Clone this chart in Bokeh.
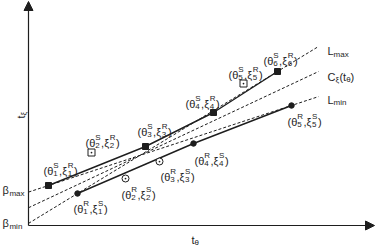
import math
from bokeh.plotting import figure
from bokeh.models import Range1d, Arrow, NormalHead, ColumnDataSource
from bokeh.embed import file_html
from bokeh.resources import INLINE
from bokeh.core.properties import value

# ---------------- data (t_theta, t_xi units; origin at the axes corner) -------------
theta_S = [20, 63, 117, 185, 215, 249]      # S points (theta^S_i)
xi_R = [40, 73, 79, 113, 142, 154]          # S points (xi^R_i)
S_on_bound = [True, False, True, True, False, True]
theta_R = [49, 97, 131, 165, 263]           # R points (theta^R_i)
xi_S = [32, 47, 64, 82, 120]                # R points (xi^S_i)
R_on_bound = [True, False, False, True, True]
t_end = 290                                  # where the bound lines stop
axis_x_max = 346
axis_y_max = 224

# bound lines
slope_max = (xi_R[5] - xi_S[0]) / (theta_S[5] - theta_R[0])   # L_max through R1, S6
beta_min = xi_S[0] - slope_max * theta_R[0]
slope_min = (xi_S[4] - xi_R[0]) / (theta_R[4] - theta_S[0])   # L_min through S1, R5
beta_max = xi_R[0] - slope_min * theta_S[0]
slope_c = (slope_max + slope_min) / 2
beta_c = (beta_max + beta_min) / 2

INK = "#1e1e1e"
FONT = "Liberation Sans"
MAIN = 11
SCR = 8

p = figure(width=376, height=247, output_backend="svg", toolbar_location=None,
           x_range=Range1d(-28, 348), y_range=Range1d(-22, 225),
           min_border=0, outline_line_color=None)
p.axis.visible = False
p.grid.visible = False
p.background_fill_color = "white"

# axes with arrows
p.add_layout(Arrow(end=NormalHead(size=9, fill_color=INK, line_color=INK),
                   x_start=0, y_start=0, x_end=0, y_end=axis_y_max,
                   line_color=INK, line_width=1.2))
p.add_layout(Arrow(end=NormalHead(size=9, fill_color=INK, line_color=INK),
                   x_start=0, y_start=0, x_end=axis_x_max, y_end=0,
                   line_color=INK, line_width=1.2))

# dashed lines
for b, s in [(beta_min, slope_max), (beta_c, slope_c), (beta_max, slope_min)]:
    p.line([0, t_end], [b, b + s * t_end], line_color=INK, line_width=1,
           line_dash="3 2")

# solid envelopes
us_x = [x for x, f in zip(theta_S, S_on_bound) if f]
us_y = [y for y, f in zip(xi_R, S_on_bound) if f]
lr_x = [x for x, f in zip(theta_R, R_on_bound) if f]
lr_y = [y for y, f in zip(xi_S, R_on_bound) if f]
p.line(us_x, us_y, line_color=INK, line_width=1.4)
p.line(lr_x, lr_y, line_color=INK, line_width=1.4)

# markers
p.scatter(us_x, us_y, marker="square", size=6, fill_color=INK, line_color=INK)
p.scatter(lr_x, lr_y, marker="circle", size=5.5, fill_color=INK, line_color=INK)
p.scatter([x for x, f in zip(theta_S, S_on_bound) if not f],
          [y for y, f in zip(xi_R, S_on_bound) if not f],
          marker="square_dot", size=7, fill_color="white", line_color=INK, line_width=1)
p.scatter([x for x, f in zip(theta_R, R_on_bound) if not f],
          [y for y, f in zip(xi_S, R_on_bound) if not f],
          marker="circle_dot", size=7, fill_color="white", line_color=INK, line_width=1)

# ---------------- text with super/subscripts ----------------
CW = {"(": .333, ")": .333, ",": .278, "θ": .556, "ξ": .5, "t": .278, "C": .722,
      "L": .556, "β": .58, "S": .667, "R": .722, "m": .833, "a": .556, "x": .5,
      "i": .222, "n": .556}


def width(s, size):
    return sum(CW.get(c, .556) for c in s) * size


main_src = dict(x=[], y=[], text=[], xo=[], yo=[])
scr_src = dict(x=[], y=[], text=[], xo=[], yo=[])


def put(src, x, y, t, xo, yo):
    src["x"].append(x); src["y"].append(y); src["text"].append(t)
    src["xo"].append(xo); src["yo"].append(yo)


def label(x, y, dx, dy, segs, msize=MAIN):
    cur = dx
    for seg in segs:
        if seg[0] == "m":
            put(main_src, x, y, seg[1], cur, dy)
            cur += width(seg[1], msize)
        elif seg[0] == "st":
            put(scr_src, x, y, seg[1], cur, dy - 5.5)
            put(scr_src, x, y, seg[2], cur, dy + 3)
            cur += max(width(seg[1], SCR), width(seg[2], SCR)) + 0.5
        elif seg[0] == "sub":
            put(scr_src, x, y, seg[1], cur, dy + 3)
            cur += width(seg[1], SCR)


S_off = [(-5, -15), (-6, -10), (-8, -15), (-28, -9), (-15, -9), (-14, -11)]
R_off = [(-4, 15), (-4, 16), (1, 15), (1, 17), (-4, 16)]
for i, (x, y) in enumerate(zip(theta_S, xi_R)):
    n = str(i + 1)
    label(x, y, *S_off[i], [("m", "(θ"), ("st", "S", n), ("m", ",ξ"), ("st", "R", n), ("m", ")")])
for i, (x, y) in enumerate(zip(theta_R, xi_S)):
    n = str(i + 1)
    label(x, y, *R_off[i], [("m", "(θ"), ("st", "R", n), ("m", ",ξ"), ("st", "S", n), ("m", ")")])

# right-hand line labels
label(t_end, beta_min + slope_max * t_end, 9, 5, [("m", "L"), ("sub", "max")])
label(t_end, beta_c + slope_c * t_end, 9, 5, [("m", "C"), ("sub", "ξ"), ("m", "(t"), ("sub", "θ"), ("m", ")")])
label(t_end, beta_max + slope_min * t_end, 9, 3, [("m", "L"), ("sub", "min")])
# intercept labels
label(0, beta_max, -26, -2, [("m", "β"), ("sub", "max")], msize=12)
label(0, beta_min, -26, 0, [("m", "β"), ("sub", "min")], msize=12)
# x axis title
label(axis_x_max / 2, 0, -10, 14, [("m", "t"), ("sub", "θ")])

p.text("x", "y", text="text", x_offset="xo", y_offset="yo", source=ColumnDataSource(main_src),
       text_font=value(FONT), text_font_size=f"{MAIN}px", text_color=INK,
       text_align="left", text_baseline="alphabetic")
p.text("x", "y", text="text", x_offset="xo", y_offset="yo", source=ColumnDataSource(scr_src),
       text_font=value(FONT), text_font_size=f"{SCR}px", text_color=INK,
       text_align="left", text_baseline="alphabetic")

# y axis title (rotated)
p.text([0], [axis_y_max / 2], text=["t"], x_offset=-8, y_offset=5, angle=math.pi / 2,
       text_font=value(FONT), text_font_size=f"{MAIN}px", text_color=INK,
       text_align="left", text_baseline="alphabetic")
p.text([0], [axis_y_max / 2], text=["ξ"], x_offset=-5, y_offset=2, angle=math.pi / 2,
       text_font=value(FONT), text_font_size=f"{SCR}px", text_color=INK,
       text_align="left", text_baseline="alphabetic")

open("out.html", "w").write(file_html(p, INLINE))
